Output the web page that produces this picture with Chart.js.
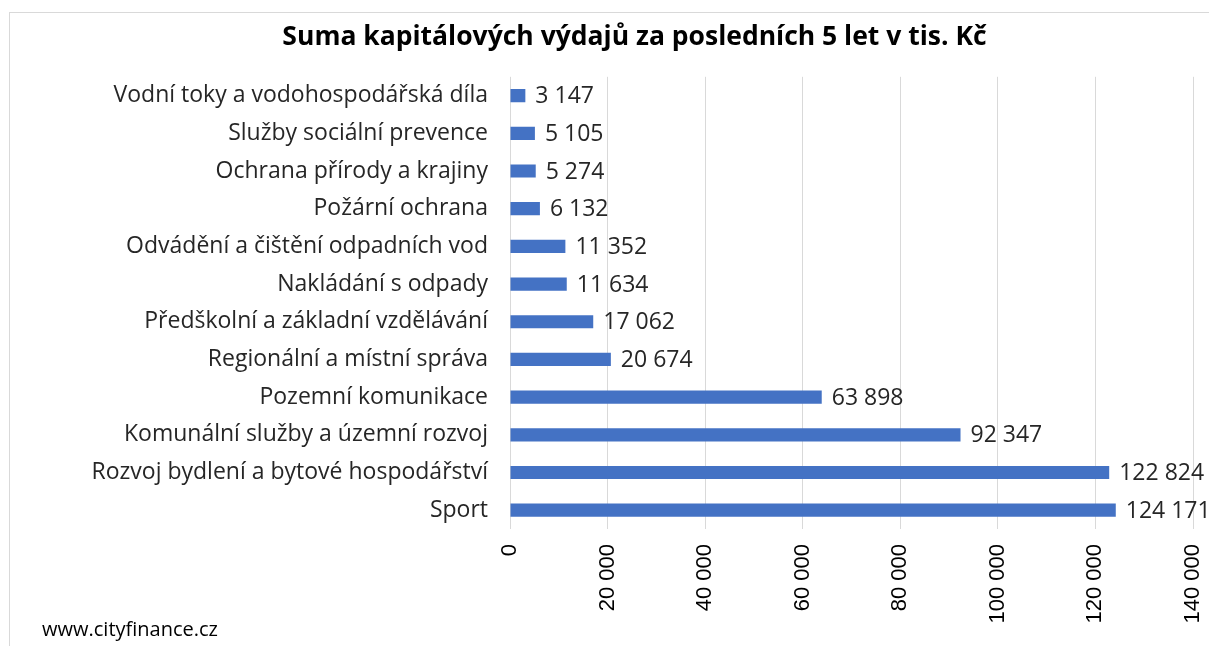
<!DOCTYPE html>
<html>
<head>
<meta charset="utf-8">
<script src="https://cdn.jsdelivr.net/npm/chart.js@4.4.1/dist/chart.umd.min.js"></script>
<style>
  html, body { margin: 0; padding: 0; background: #fff; }
  #wrap { position: relative; width: 1209px; height: 646px; overflow: hidden; }
  #frame { position: absolute; left: 9px; top: 12px; width: 1300px; height: 700px; border: 1px solid #d9d9d9; box-sizing: border-box; }
  #chart { position: absolute; left: 0; top: 0; }
  #source { position: absolute; left: 42px; top: 615px; font: 20px "Open Sans", sans-serif; color: #000; }
</style>
</head>
<body>
<div id="wrap">
  <div id="frame"></div>
  <canvas id="chart" width="1209" height="646"></canvas>
  <div id="source">www.cityfinance.cz</div>
</div>
<script>
// --- data -------------------------------------------------------------------
const categories = [
    'Vodní toky a vodohospodářská díla',
    'Služby sociální prevence',
    'Ochrana přírody a krajiny',
    'Požární ochrana',
    'Odvádění a čištění odpadních vod',
    'Nakládání s odpady',
    'Předškolní a základní vzdělávání',
    'Regionální a místní správa',
    'Pozemní komunikace',
    'Komunální služby a územní rozvoj',
    'Rozvoj bydlení a bytové hospodářství',
    'Sport'
]
const spending = [3147, 5105, 5274, 6132, 11352, 11634, 17062, 20674, 63898, 92347, 122824, 124171]
const tickValues = [0, 20000, 40000, 60000, 80000, 100000, 120000, 140000]

const chartTitle = 'Suma kapitálových výdajů za posledních 5 let v tis. Kč'

// thousands separated by a space, like the original
function formatNumber(n) {
    return String(Math.round(n)).replace(/\B(?=(\d{3})+(?!\d))/g, ' ')
}

// draws the value to the right of each bar
const valueLabels = {
    id: 'valueLabels',
    afterDatasetsDraw(chart) {
        const ctx = chart.ctx
        const meta = chart.getDatasetMeta(0)
        ctx.save()
        ctx.font = '23px "Open Sans", sans-serif'
        ctx.fillStyle = '#262626'
        ctx.textAlign = 'left'
        ctx.textBaseline = 'middle'
        meta.data.forEach((bar, i) => {
            ctx.fillText(formatNumber(chart.data.datasets[0].data[i]), bar.x + 10, bar.y + 1)
        })
        ctx.restore()
    }
}

new Chart(document.getElementById('chart'), {
    type: 'bar',
    data: {
        labels: categories,
        datasets: [{
            data: spending,
            backgroundColor: '#4472c4',
            borderWidth: 0,
            categoryPercentage: 0.7,
            barPercentage: 0.5
        }]
    },
    plugins: [valueLabels],
    options: {
        indexAxis: 'y',
        responsive: false,
        animation: false,
        // left padding keeps the title centred where the original has it
        layout: { padding: { top: 22, left: 76, right: 16, bottom: 0 } },
        plugins: {
            legend: { display: false },
            tooltip: { enabled: false },
            title: {
                display: true,
                text: chartTitle,
                color: '#000',
                font: { family: '"Open Sans", sans-serif', size: 26.5, weight: 'bold' },
                padding: { top: 0, bottom: 23 }
            }
        },
        scales: {
            x: {
                min: 0,
                max: 140000,
                afterBuildTicks: (scale) => { scale.ticks = tickValues.map(v => ({ value: v })) },
                afterFit: (scale) => {
                    scale.height = 117
                    // rotated labels should not push the plot inwards
                    scale.paddingLeft = 0
                    scale.paddingRight = 0
                },
                grid: { color: '#d9d9d9', drawTicks: false },
                border: { display: false },
                ticks: {
                    minRotation: 90,
                    maxRotation: 90,
                    padding: 15,
                    color: '#000',
                    font: { family: 'Liberation Sans, Arial, sans-serif', size: 22 },
                    callback: (v) => formatNumber(v)
                }
            },
            y: {
                afterFit: (scale) => { scale.width = 434 },
                grid: { display: false, drawTicks: false },
                border: { display: false },
                ticks: {
                    padding: 22,
                    color: '#262626',
                    font: { family: '"Open Sans", sans-serif', size: 23 }
                }
            }
        }
    }
})
</script>
</body>
</html>
